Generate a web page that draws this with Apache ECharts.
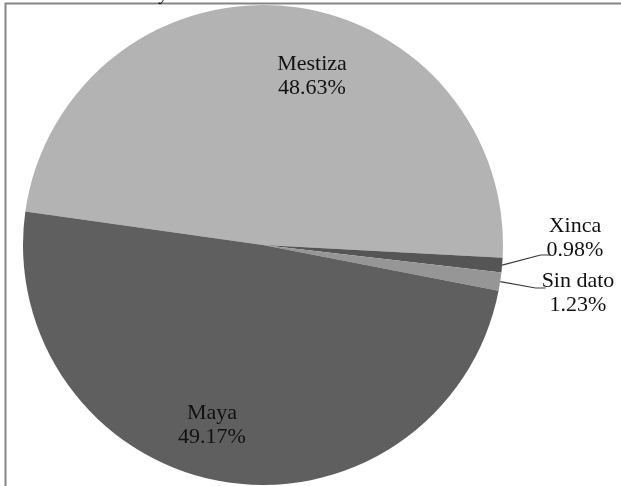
<!DOCTYPE html>
<html>
<head>
<meta charset="utf-8">
<script src="https://cdn.jsdelivr.net/npm/echarts@6/dist/echarts.min.js"></script>
<style>
html,body{margin:0;padding:0;background:#fff;}
#chart{width:621px;height:486px;}
</style>
</head>
<body>
<div id="chart"></div>
<script>
// ---- data ----
var categories = ['Mestiza', 'Xinca', 'Sin dato', 'Maya'];
var values = [48.63, 0.98, 1.23, 49.17];
var colors = ['#b3b3b3', '#555555', '#969696', '#5f5f5f'];

// ---- label layout (style only) ----
var labelCenters = {
  'Mestiza': [312, 76],
  'Maya': [212, 425],
  'Xinca': [575, 238],
  'Sin dato': [578, 293]
};
var leaderY = { 'Xinca': 255, 'Sin dato': 288 };

var fontFam = '"Liberation Serif","Times New Roman",serif';

var chart = echarts.init(document.getElementById('chart'), null, {renderer: 'canvas'});

var data = categories.map(function (c, i) {
  var small = (c === 'Xinca' || c === 'Sin dato');
  return {
    name: c,
    value: values[i],
    itemStyle: {color: colors[i]},
    label: {position: small ? 'outside' : 'inside'},
    labelLine: {show: small}
  };
});

chart.setOption({
  animation: false,
  backgroundColor: '#ffffff',
  graphic: [
    {
      type: 'rect',
      shape: {x: 5.5, y: 3.5, width: 700, height: 600},
      style: {fill: 'none', stroke: '#858585', lineWidth: 2},
      silent: true
    },
    {
      type: 'text',
      style: {x: 160, y: 4, text: 'y', font: 'italic 18px ' + fontFam, fill: '#000', verticalAlign: 'bottom'},
      silent: true
    }
  ],
  series: [{
    type: 'pie',
    center: [263, 245],
    radius: [0, 240],
    startAngle: 172,
    clockwise: true,
    avoidLabelOverlap: false,
    data: data,
    label: {
      show: true,
      formatter: function (p) { return p.name + '\n' + p.value.toFixed(2) + '%'; },
      fontFamily: fontFam,
      fontSize: 22,
      lineHeight: 24,
      color: '#111111',
      align: 'center'
    },
    labelLine: {
      lineStyle: {color: '#3a3a3a', width: 1.2}
    },
    labelLayout: function (p) {
      var name = categories[p.dataIndex];
      var c = labelCenters[name];
      var w = p.labelRect.width, h = p.labelRect.height;
      var res = {x: c[0], y: c[1], align: 'center', verticalAlign: 'middle'};
      if (leaderY[name] != null && p.labelLinePoints) {
        var left = c[0] - w / 2 + 4;
        var ly = leaderY[name];
        res.labelLinePoints = [p.labelLinePoints[0], [left - 10, ly], [left, ly]];
      }
      return res;
    },
    emphasis: {disabled: true}
  }]
});
</script>
</body>
</html>
